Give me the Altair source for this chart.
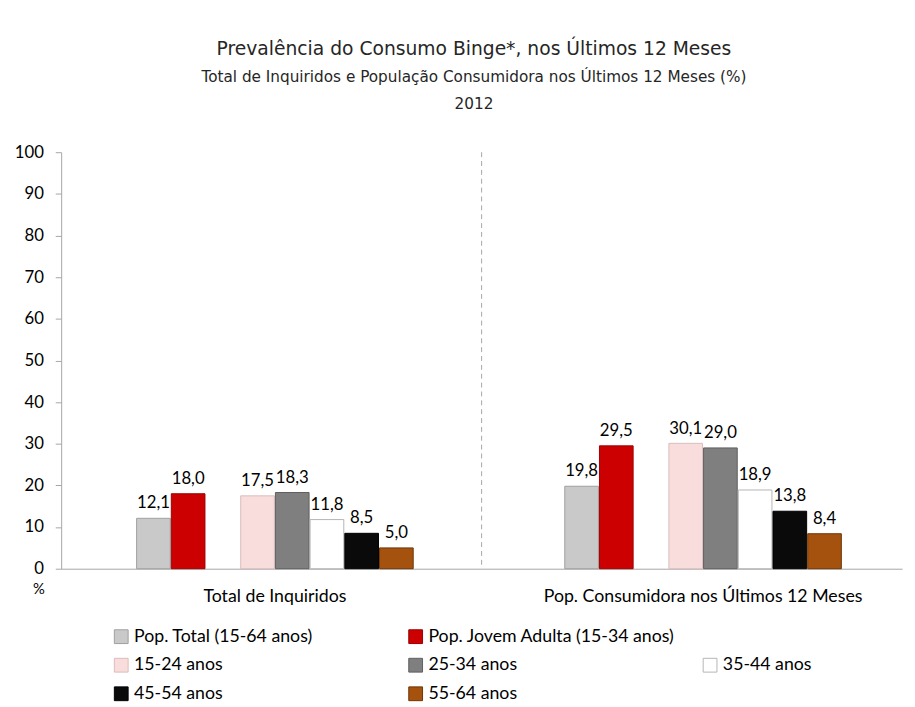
import altair as alt
import pandas as pd

categories = ["Total de Inquiridos", "Pop. Consumidora nos Últimos 12 Meses"]
series = ["Pop. Total (15-64 anos)", "Pop. Jovem Adulta (15-34 anos)", " ",
          "15-24 anos", "25-34 anos", "35-44 anos", "45-54 anos", "55-64 anos"]
bar_series = [s for s in series if s.strip()]
values_total = [12.1, 18.0, 17.5, 18.3, 11.8, 8.5, 5.0]
values_consumidora = [19.8, 29.5, 30.1, 29.0, 18.9, 13.8, 8.4]

fills = ["#C9C9C9", "#CC0000", "transparent", "#F9DCDC", "#7F7F7F", "#FFFFFF", "#0A0A0A", "#A5520F"]
strokes = ["#A0A0A0", "#9A0000", "transparent", "#D9BDBD", "#5E5E5E", "#B5B5B5", "#000000", "#6E3506"]

rows = []
for cat, vals in zip(categories, [values_total, values_consumidora]):
    for s, v in zip(bar_series, vals):
        rows.append({"category": cat, "series": s, "value": v})
df = pd.DataFrame(rows)
sep_df = pd.DataFrame({"category": [categories[1]]})

W, H = 854, 423
FONT = "Lato"

x_enc = alt.X("category:N", sort=categories,
              scale=alt.Scale(domain=categories, paddingInner=0.354, paddingOuter=0.159,
                              align=0.554),
              axis=alt.Axis(title=None, labelFontSize=18, labelFont=FONT, labelColor="#000000",
                            labelPadding=19, ticks=False, domainColor="#A6A6A6", labelAngle=0,
                            labelLimit=500))
xoff = alt.XOffset("series:N", sort=series,
                   scale=alt.Scale(domain=series, paddingInner=0.03, paddingOuter=0))
y_enc = alt.Y("value:Q", scale=alt.Scale(domain=[0, 100]),
              axis=alt.Axis(title="%", titleAngle=0, titleX=-23, titleY=H + 13,
                            titleBaseline="top",
                            titleFontSize=15, titleFontWeight="normal", titleFont=FONT,
                            titleColor="#000000", titleAlign="center",
                            values=list(range(0, 101, 10)), grid=False,
                            labelFontSize=17, labelFont=FONT, labelColor="#000000",
                            tickColor="#A6A6A6", domainColor="#A6A6A6", tickSize=6,
                            labelPadding=12))

color_enc = alt.Color("series:N", sort=series,
                      scale=alt.Scale(domain=series, range=fills),
                      legend=alt.Legend(title=None, orient="none", legendX=52, legendY=483,
                                        direction="horizontal", gridAlign="all",
                                        columns=3, symbolType="square", symbolSize=196,
                                        symbolStrokeWidth=1, labelFontSize=18, labelFont=FONT,
                                        labelColor="#000000", labelLimit=400, columnPadding=26,
                                        rowPadding=11, labelOffset=4))
stroke_enc = alt.Stroke("series:N", sort=series,
                        scale=alt.Scale(domain=series, range=strokes), legend=None)

bars = alt.Chart(df).mark_bar(strokeWidth=1).encode(
    x=x_enc, xOffset=xoff, y=y_enc, color=color_enc, stroke=stroke_enc)

labels = alt.Chart(df).transform_calculate(
    label="replace(format(datum.value, '.1f'), '.', ',')"
).mark_text(dy=-15, fontSize=17, font=FONT, color="#000000").encode(
    x=alt.X("category:N", sort=categories), xOffset=alt.XOffset("series:N", sort=series),
    y="value:Q", text="label:N")

main = alt.layer(bars, labels)

sep = alt.Chart(sep_df).mark_rule(strokeDash=[5, 4], color="#A6A6A6", strokeWidth=1).encode(
    x=alt.X("category:N", bandPosition=0,
            scale=alt.Scale(domain=categories, paddingInner=0, paddingOuter=0), axis=None),
    y=alt.value(0), y2=alt.value(H))

chart = alt.layer(sep, main).resolve_scale(x="independent").properties(
    width=W, height=H,
    padding={"left": 6, "top": 27, "right": 5, "bottom": 0},
    title=alt.TitleParams(
        text="Prevalência do Consumo Binge*, nos Últimos 12 Meses",
        subtitle=["Total de Inquiridos e População Consumidora nos Últimos 12 Meses (%)", "2012"],
        font="DejaVu Sans", fontSize=19, fontWeight="normal", color="#262626",
        subtitleFont="DejaVu Sans", subtitleFontSize=15.5, subtitleColor="#262626",
        subtitlePadding=11, subtitleLineHeight=28, offset=31, anchor="middle", frame="bounds",
        dx=16),
).configure_view(stroke=None)

chart.save("out.html", embed_options={"renderer": "svg", "actions": False})
